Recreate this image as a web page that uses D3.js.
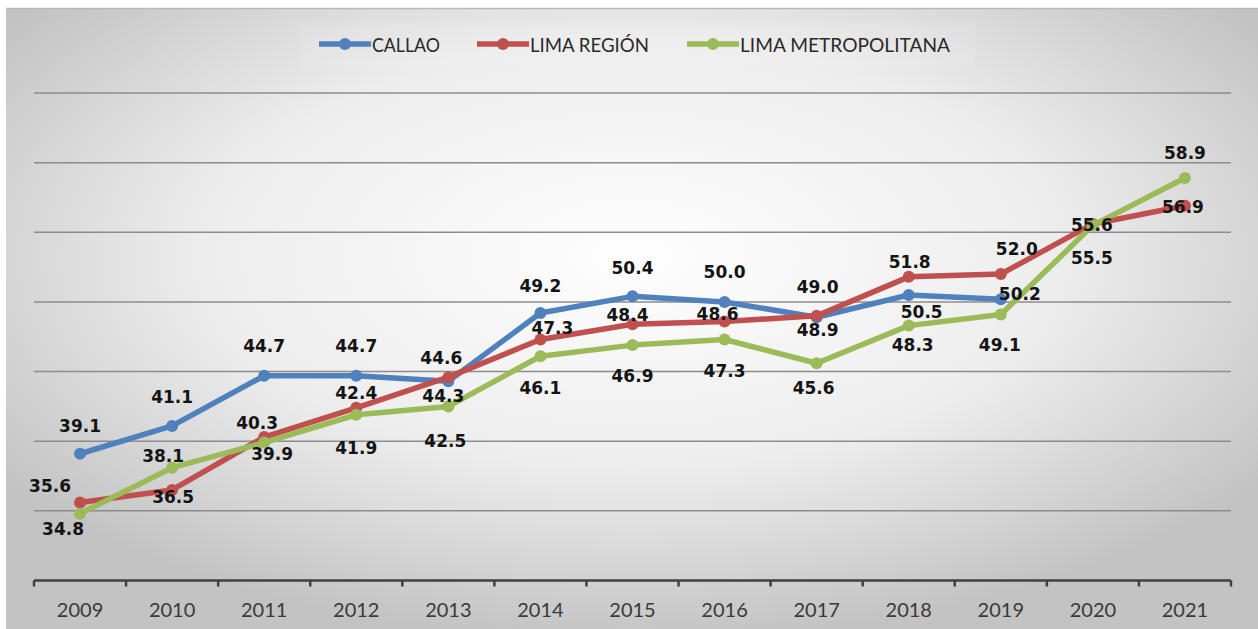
<!DOCTYPE html>
<html>
<head>
<meta charset="utf-8">
<script src="https://cdn.jsdelivr.net/npm/d3@7"></script>
<style>
  body { margin: 0; background: #fff; }
  svg { display: block; }
</style>
</head>
<body>
<div id="chart-area"></div>
<script>
// data
var years = ["2009","2010","2011","2012","2013","2014","2015","2016","2017","2018","2019","2020","2021"]
var callao = [39.1, 41.1, 44.7, 44.7, 44.3, 49.2, 50.4, 50.0, 48.9, 50.5, 50.2]
var limaRegion = [35.6, 36.5, 40.3, 42.4, 44.6, 47.3, 48.4, 48.6, 49.0, 51.8, 52.0, 55.6, 56.9]
var limaMetro = [34.8, 38.1, 39.9, 41.9, 42.5, 46.1, 46.9, 47.3, 45.6, 48.3, 49.1, 55.5, 58.9]
var seriesNames = ["CALLAO", "LIMA REGIÓN", "LIMA METROPOLITANA"]
var yTicks = [30, 35, 40, 45, 50, 55, 60, 65]

// label nudges (px, relative to each point) - styling only
var callaoNudge = [[0,-28],[0,-29],[0,-30],[0,-30],[-5,14],[0,-28],[0,-29],[0,-30],[1,12],[13,17],[19,-6]]
var regionNudge = [[-30,-17],[1,7],[-7,-15],[0,-15],[-7,-20],[12,-12],[-5,-10],[-7,-8],[1,-29],[1,-15],[16,-26],[-1,1],[-2,1]]
var metroNudge = [[-17,15],[-9,-12],[8,11],[0,33],[-3,34],[0,31],[0,30],[0,31],[-3,24],[4,19],[-1,30],[-1,32],[0,-25]]

var colors = ["#4f81bd", "#c0504d", "#9bbb59"]

var W = 1258, H = 629

var svg = d3.select("#chart-area").append("svg")
    .attr("width", W)
    .attr("height", H)

var defs = svg.append("defs")
var grad = defs.append("radialGradient")
    .attr("id", "bg")
    .attr("cx", "50%").attr("cy", "40%").attr("r", "62%")
grad.append("stop").attr("offset", "0%").attr("stop-color", "#fefefe")
grad.append("stop").attr("offset", "55%").attr("stop-color", "#ededed")
grad.append("stop").attr("offset", "100%").attr("stop-color", "#c3c3c3")

// chart box
svg.append("rect")
    .attr("x", 6).attr("y", 8)
    .attr("width", W - 6).attr("height", H - 8)
    .attr("fill", "url(#bg)")
svg.append("line")
    .attr("x1", 6).attr("x2", W).attr("y1", 8.5).attr("y2", 8.5)
    .attr("stroke", "#b8b8b8").attr("stroke-width", 1.5)

var x = d3.scaleBand()
    .domain(years)
    .range([34, 1231])
    .padding(0)

var y = d3.scaleLinear()
    .domain([30, 65])
    .range([580.5, 93])

function cx(i) { return x(years[i]) + x.bandwidth() / 2 }

// gridlines
svg.append("g")
  .selectAll("line")
  .data(yTicks.slice(1))
  .enter().append("line")
    .attr("x1", 34).attr("x2", 1231)
    .attr("y1", function(d) { return y(d) })
    .attr("y2", function(d) { return y(d) })
    .attr("stroke", "#8c8c8c")
    .attr("stroke-width", 1.5)

// x axis
var xAxisCall = d3.axisBottom(x).tickSize(0).tickPadding(22)
var xAxisGroup = svg.append("g")
    .attr("transform", "translate(0," + y(30) + ")")
    .call(xAxisCall)
xAxisGroup.select(".domain").remove()
xAxisGroup.selectAll("text")
    .attr("font-family", "Lato, 'Open Sans', sans-serif")
    .attr("font-size", "20px")
    .attr("fill", "#3a3a3a")

xAxisGroup.append("line")
    .attr("x1", 34).attr("x2", 1231).attr("y1", 0).attr("y2", 0)
    .attr("stroke", "#404040").attr("stroke-width", 2.5)
xAxisGroup.selectAll(".sep")
  .data(d3.range(years.length + 1))
  .enter().append("line")
    .attr("class", "sep")
    .attr("x1", function(i) { return 34 + i * x.step() })
    .attr("x2", function(i) { return 34 + i * x.step() })
    .attr("y1", 0).attr("y2", 6)
    .attr("stroke", "#404040").attr("stroke-width", 2.5)

var allSeries = [callao, limaRegion, limaMetro]
var nudges = [callaoNudge, regionNudge, metroNudge]

var line = d3.line()
    .x(function(d, i) { return cx(i) })
    .y(function(d) { return y(d) })

var lineOrder = [0, 1, 2]
lineOrder.forEach(function(s) {
  var g = svg.append("g")
  g.append("path")
      .datum(allSeries[s])
      .attr("d", line)
      .attr("fill", "none")
      .attr("stroke", colors[s])
      .attr("stroke-width", 5.5)
      .attr("stroke-linejoin", "round")
  g.selectAll("circle")
    .data(allSeries[s])
    .enter().append("circle")
      .attr("cx", function(d, i) { return cx(i) })
      .attr("cy", function(d) { return y(d) })
      .attr("r", 6)
      .attr("fill", colors[s])
})

// data labels
lineOrder.forEach(function(s) {
  svg.append("g")
    .selectAll("text")
    .data(allSeries[s])
    .enter().append("text")
      .attr("x", function(d, i) { return cx(i) + nudges[s][i][0] })
      .attr("y", function(d, i) { return y(d) + nudges[s][i][1] + 6.5 })
      .attr("text-anchor", "middle")
      .attr("font-family", "'DejaVu Sans', sans-serif")
      .attr("font-weight", "bold")
      .attr("font-size", "17px")
      .attr("fill", "#141414")
      .text(function(d) { return d.toFixed(1) })
})

// legend
var legendX = [319, 477, 687]
var legendW = [68, 119, 210]
var legend = svg.append("g")
legend.append("rect")
    .attr("x", 300).attr("y", 24).attr("width", 675).attr("height", 42)
    .attr("fill", "#ffffff").attr("opacity", 0.1)
seriesNames.forEach(function(name, s) {
  var lg = legend.append("g").attr("transform", "translate(" + legendX[s] + ",44)")
  lg.append("line")
      .attr("x1", 0).attr("x2", 52).attr("y1", 0).attr("y2", 0)
      .attr("stroke", colors[s]).attr("stroke-width", 5.5)
  lg.append("circle")
      .attr("cx", 26).attr("cy", 0).attr("r", 6)
      .attr("fill", colors[s])
  lg.append("text")
      .attr("x", 53).attr("y", 7.5)
      .attr("font-family", "Lato, 'Open Sans', sans-serif")
      .attr("font-size", "20px")
      .attr("fill", "#2a2a2a")
      .attr("textLength", legendW[s])
      .attr("lengthAdjust", "spacingAndGlyphs")
      .text(name)
})
</script>
</body>
</html>
